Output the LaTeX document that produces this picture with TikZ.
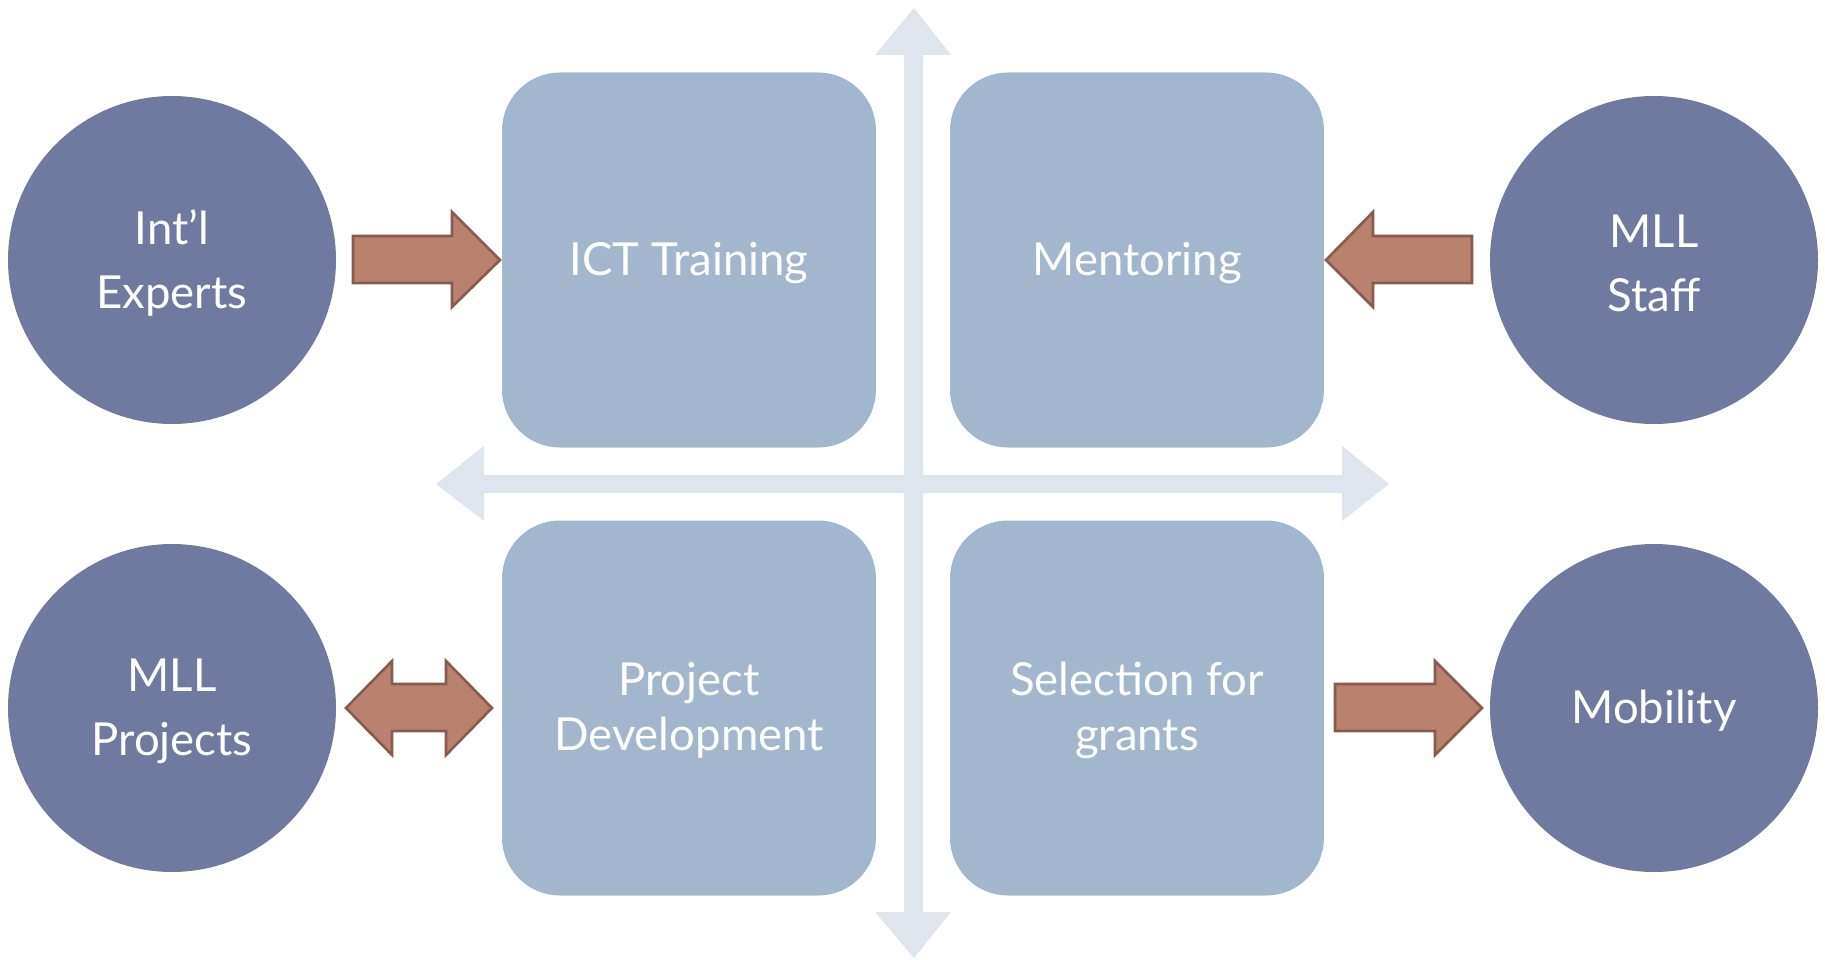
\documentclass[tikz,border=0pt]{standalone}
\usepackage{fontspec}
\setmainfont{Lato}
\definecolor{circ}{HTML}{7079A0}
\definecolor{boxc}{HTML}{A2B7CD}
\definecolor{crossc}{HTML}{DEE5ED}
\definecolor{arrf}{HTML}{B9826F}
\definecolor{arrd}{HTML}{8A5B4C}
\tikzset{
  circnode/.style={circle, fill=circ, minimum size=328pt, inner sep=0pt},
  boxnode/.style={rounded corners=58pt, fill=boxc, minimum width=374pt, minimum height=375pt, inner sep=0pt},
  blockarrow/.style={fill=arrf, draw=arrd, line width=2.6pt, line join=miter},
  crossarrow/.style={fill=crossc, draw=none},
  boxtxt/.style={text=white, align=center, font=\fontsize{45.5}{55}\selectfont},
  circtxt/.style={text=white, align=center, font=\fontsize{45.5}{64}\selectfont, yshift=-3pt}
}
\begin{document}
\begin{tikzpicture}[x=1pt,y=-1pt]
\useasboundingbox (0,0) rectangle (1825,960);
% cross arrows
\fill[crossarrow] (904,55) -- (875,55) -- (914,8) -- (951,55) -- (923,55) -- (923,912) -- (951,912) -- (914,958) -- (875,912) -- (904,912) -- cycle;
\fill[crossarrow] (484,475) -- (484,446) -- (436,484) -- (484,521) -- (484,493) -- (1342,493) -- (1342,521) -- (1389,484) -- (1342,446) -- (1342,475) -- cycle;
% boxes
\node[boxnode] (ict) at (689,260) {};
\node[boxnode] (ment) at (1137,260) {};
\node[boxnode] (proj) at (689,708) {};
\node[boxnode] (sel) at (1137,708) {};
\node[boxtxt, yshift=-3pt] (ictt) at (ict) {ICT Training};
\node[boxtxt, yshift=-3pt] (mentt) at (ment) {Mentoring};
\node[boxtxt, yshift=-2pt] (projt) at (proj) {Project\\Development};
\node[boxtxt, yshift=-2pt] (selt) at (sel) {Selec\hbox{}tion for\\grants};
% circles
\node[circnode] (intl) at (172,260) {};
\node[circnode] (staff) at (1654,260) {};
\node[circnode] (mllp) at (172,708) {};
\node[circnode] (mob) at (1654,708) {};
\node[circtxt] (intlt) at (intl) {Int’l\\Experts};
\node[circtxt] (stafft) at (staff) {MLL\\Staff};
\node[circtxt] (mllpt) at (mllp) {MLL\\Projects};
\node[circtxt] (mobt) at (mob) {Mobility};
% block arrows
\draw[blockarrow] (353,236) -- (452,236) -- (452,212) -- (500,260) -- (452,307) -- (452,283) -- (353,283) -- cycle;
\draw[blockarrow] (1472,236) -- (1373,236) -- (1373,212) -- (1326,260) -- (1373,307) -- (1373,283) -- (1472,283) -- cycle;
\draw[blockarrow] (392,684) -- (446,684) -- (446,661) -- (492,708) -- (446,755) -- (446,731) -- (392,731) -- (392,755) -- (346,708) -- (392,661) -- cycle;
\draw[blockarrow] (1335,684) -- (1435,684) -- (1435,661) -- (1482,708) -- (1435,755) -- (1435,731) -- (1335,731) -- cycle;
\end{tikzpicture}
\end{document}
